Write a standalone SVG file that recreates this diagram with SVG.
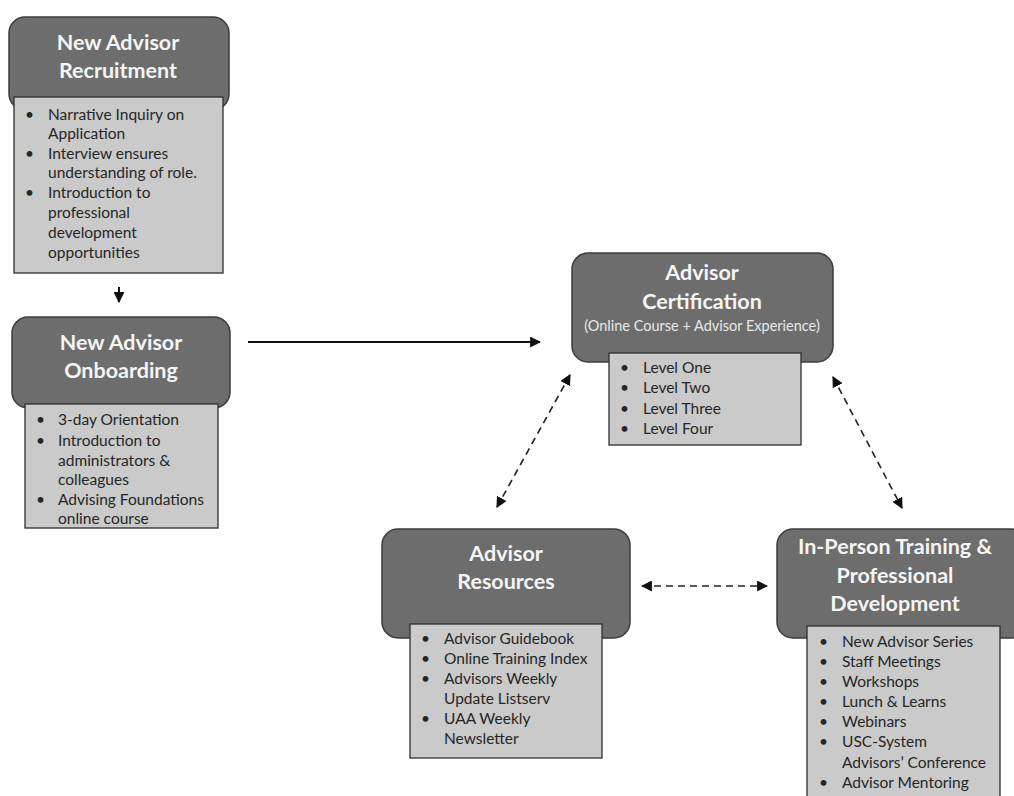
<svg xmlns="http://www.w3.org/2000/svg" width="1014" height="796" viewBox="0 0 1014 796">
<defs>
<style>
.hd{fill:#6d6d6d;stroke:#3c3c3c;stroke-width:1.5}
.bx{fill:#cacaca;stroke:#2e2e2e;stroke-width:1.3}
.tt{font-family:Lato,"Liberation Sans",sans-serif;font-weight:bold;font-size:21.5px;fill:#f5f5f5;text-anchor:middle}
.st{font-family:Lato,"Liberation Sans",sans-serif;font-size:14.5px;fill:#e8e8e8;text-anchor:middle}
.li{font-family:Lato,"Liberation Sans",sans-serif;font-size:15.5px;fill:#262626}
.ln{stroke:#111;stroke-width:2;fill:none}
.dl{stroke:#222;stroke-width:1.6;fill:none;stroke-dasharray:7,5}
</style>
<marker id="ah2" viewBox="0 0 10 10" refX="9" refY="5" markerWidth="11" markerHeight="11" orient="auto-start-reverse" markerUnits="userSpaceOnUse">
<path d="M0,0 L10,5 L0,10 z" fill="#111"/>
</marker>
</defs>
<rect width="1014" height="796" fill="#ffffff"/>

<g id="connectors">
<line class="ln" x1="119" y1="287" x2="119" y2="302" marker-end="url(#ah2)"/>
<line class="ln" x1="248" y1="342" x2="540" y2="342" marker-end="url(#ah2)"/>
<line class="dl" x1="570" y1="375" x2="497" y2="507" marker-start="url(#ah2)" marker-end="url(#ah2)"/>
<line class="dl" x1="833" y1="377" x2="902" y2="508" marker-start="url(#ah2)" marker-end="url(#ah2)"/>
<line class="dl" x1="642" y1="586" x2="767" y2="586" marker-start="url(#ah2)" marker-end="url(#ah2)"/>
</g>

<g id="recruitment">
<rect class="hd" x="9" y="17" width="220" height="93" rx="16"/>
<text class="tt" x="118" y="50">New Advisor</text>
<text class="tt" x="118" y="78">Recruitment</text>
<rect class="bx" x="14" y="97" width="209" height="176"/>
<g class="li">
<text x="25" y="120">•</text><text x="48" y="120">Narrative Inquiry on</text>
<text x="48" y="139">Application</text>
<text x="25" y="159">•</text><text x="48" y="159">Interview ensures</text>
<text x="48" y="178">understanding of role.</text>
<text x="25" y="198">•</text><text x="48" y="198">Introduction to</text>
<text x="48" y="218">professional</text>
<text x="48" y="238">development</text>
<text x="48" y="258">opportunities</text>
</g>
</g>

<g id="onboarding">
<rect class="hd" x="12" y="317" width="218" height="91" rx="16"/>
<text class="tt" x="121" y="350">New Advisor</text>
<text class="tt" x="121" y="378">Onboarding</text>
<rect class="bx" x="25" y="404" width="193" height="124"/>
<g class="li">
<text x="36" y="425">•</text><text x="58" y="425">3-day Orientation</text>
<text x="36" y="446">•</text><text x="58" y="446">Introduction to</text>
<text x="58" y="466">administrators &amp;</text>
<text x="58" y="485">colleagues</text>
<text x="36" y="505">•</text><text x="58" y="505">Advising Foundations</text>
<text x="58" y="524">online course</text>
</g>
</g>

<g id="certification">
<rect class="hd" x="572" y="253" width="261" height="109" rx="16"/>
<text class="tt" x="702" y="280">Advisor</text>
<text class="tt" x="702" y="309">Certification</text>
<text class="st" x="702" y="331">(Online Course + Advisor Experience)</text>
<rect class="bx" x="609" y="353" width="192" height="92"/>
<g class="li">
<text x="620" y="373">•</text><text x="643" y="373">Level One</text>
<text x="620" y="393">•</text><text x="643" y="393">Level Two</text>
<text x="620" y="414">•</text><text x="643" y="414">Level Three</text>
<text x="620" y="434">•</text><text x="643" y="434">Level Four</text>
</g>
</g>

<g id="resources">
<rect class="hd" x="382" y="529" width="248" height="109" rx="16"/>
<text class="tt" x="506" y="561">Advisor</text>
<text class="tt" x="506" y="589">Resources</text>
<rect class="bx" x="410" y="624" width="192" height="134"/>
<g class="li">
<text x="421" y="644">•</text><text x="444" y="644">Advisor Guidebook</text>
<text x="421" y="664">•</text><text x="444" y="664">Online Training Index</text>
<text x="421" y="684">•</text><text x="444" y="684">Advisors Weekly</text>
<text x="444" y="704">Update Listserv</text>
<text x="421" y="724">•</text><text x="444" y="724">UAA  Weekly</text>
<text x="444" y="744">Newsletter</text>
</g>
</g>

<g id="inperson">
<rect class="hd" x="777" y="529" width="250" height="109" rx="16"/>
<text class="tt" x="895" y="554">In-Person Training &amp;</text>
<text class="tt" x="895" y="583">Professional</text>
<text class="tt" x="895" y="611">Development</text>
<rect class="bx" x="807" y="626" width="193" height="180"/>
<g class="li">
<text x="819" y="647">•</text><text x="842" y="647">New  Advisor Series</text>
<text x="819" y="667">•</text><text x="842" y="667">Staff Meetings</text>
<text x="819" y="687">•</text><text x="842" y="687">Workshops</text>
<text x="819" y="707">•</text><text x="842" y="707">Lunch &amp; Learns</text>
<text x="819" y="727">•</text><text x="842" y="727">Webinars</text>
<text x="819" y="747">•</text><text x="842" y="747">USC-System</text>
<text x="842" y="768">Advisors’ Conference</text>
<text x="819" y="788">•</text><text x="842" y="788">Advisor Mentoring</text>
</g>
</g>
</svg>
